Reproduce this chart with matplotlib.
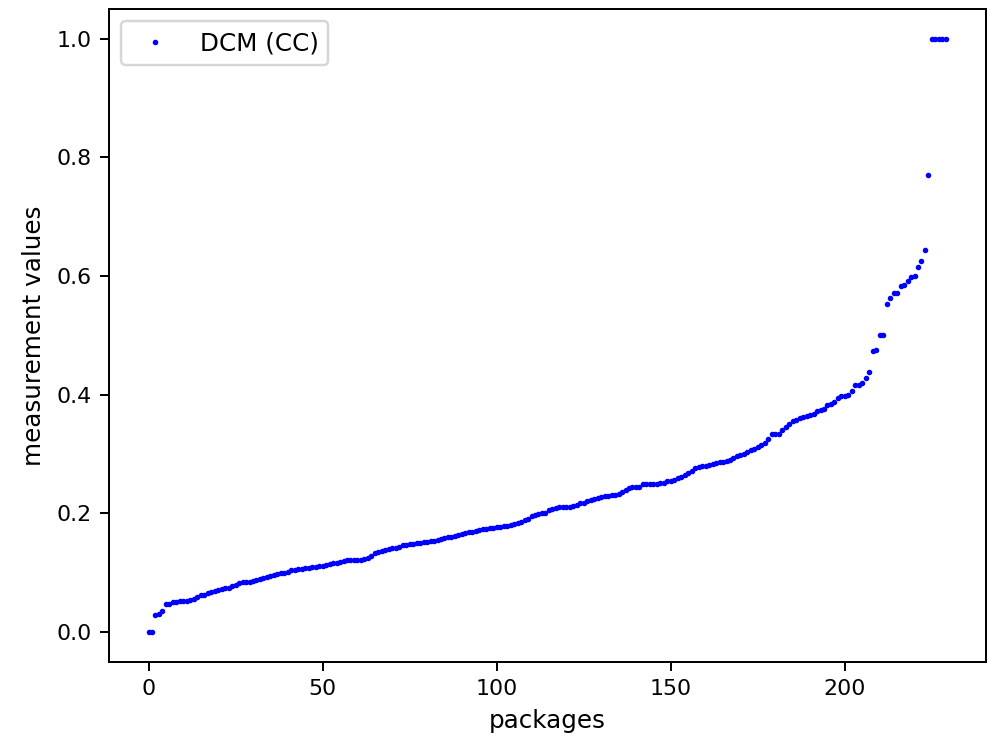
import matplotlib
matplotlib.use("Agg")
import matplotlib.pyplot as plt

label = "DCM (CC)"
x_label = "packages"
y_label = "measurement values"

# sorted measurement values, one per package
values = [
    0.000, 0.000, 0.029, 0.030, 0.035, 0.047, 0.048, 0.050, 0.051, 0.052,
    0.053, 0.053, 0.054, 0.056, 0.059, 0.062, 0.063, 0.065, 0.067, 0.069,
    0.071, 0.072, 0.074, 0.075, 0.077, 0.080, 0.083, 0.084, 0.085, 0.085,
    0.086, 0.087, 0.089, 0.091, 0.092, 0.094, 0.096, 0.098, 0.099, 0.100,
    0.102, 0.104, 0.105, 0.106, 0.107, 0.108, 0.108, 0.109, 0.110, 0.111,
    0.112, 0.113, 0.114, 0.116, 0.117, 0.118, 0.120, 0.121, 0.121, 0.121,
    0.121, 0.122, 0.123, 0.125, 0.128, 0.133, 0.135, 0.137, 0.139, 0.140,
    0.141, 0.142, 0.144, 0.146, 0.147, 0.148, 0.149, 0.150, 0.150, 0.151,
    0.152, 0.153, 0.154, 0.155, 0.157, 0.159, 0.160, 0.161, 0.162, 0.163,
    0.165, 0.167, 0.168, 0.169, 0.170, 0.172, 0.173, 0.174, 0.175, 0.176,
    0.177, 0.177, 0.178, 0.179, 0.181, 0.182, 0.183, 0.186, 0.188, 0.191,
    0.195, 0.197, 0.199, 0.200, 0.201, 0.205, 0.207, 0.209, 0.211, 0.211,
    0.211, 0.211, 0.212, 0.214, 0.217, 0.218, 0.220, 0.222, 0.224, 0.226,
    0.228, 0.229, 0.230, 0.231, 0.231, 0.233, 0.236, 0.239, 0.242, 0.244,
    0.244, 0.245, 0.249, 0.250, 0.250, 0.250, 0.250, 0.251, 0.252, 0.254,
    0.255, 0.257, 0.259, 0.262, 0.265, 0.268, 0.272, 0.277, 0.278, 0.279,
    0.280, 0.282, 0.283, 0.285, 0.286, 0.287, 0.289, 0.290, 0.293, 0.296,
    0.298, 0.300, 0.303, 0.306, 0.309, 0.312, 0.315, 0.319, 0.326, 0.333,
    0.333, 0.334, 0.340, 0.346, 0.351, 0.355, 0.358, 0.360, 0.362, 0.364,
    0.365, 0.367, 0.372, 0.375, 0.376, 0.383, 0.385, 0.387, 0.394, 0.398,
    0.398, 0.399, 0.407, 0.416, 0.417, 0.420, 0.428, 0.438, 0.473, 0.476,
    0.500, 0.500, 0.553, 0.563, 0.571, 0.572, 0.583, 0.585, 0.592, 0.598,
    0.600, 0.615, 0.625, 0.644, 0.771, 1.000, 1.000, 1.000, 1.000, 1.000,
]

dpi = 177
fig = plt.figure(figsize=(987 / dpi, 739 / dpi), dpi=dpi)
ax = fig.add_axes([0.1101, 0.1046, 0.8886, 0.8832])

ax.plot(range(len(values)), values, "b.", markersize=2.5, label=label)

ax.set_xlabel(x_label)
ax.set_ylabel(y_label)
ax.tick_params(labelsize=9)
ax.legend(loc="upper left")

plt.savefig("out.png", dpi=dpi)
